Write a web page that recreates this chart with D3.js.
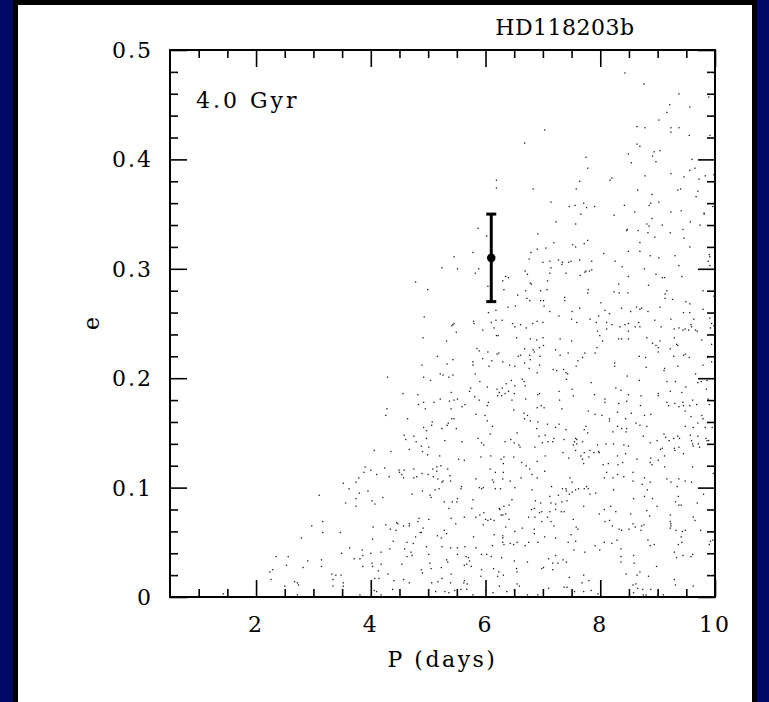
<!DOCTYPE html>
<html><head><meta charset="utf-8">
<script src="https://cdn.jsdelivr.net/npm/d3@7/dist/d3.min.js"></script>
<style>html,body{margin:0;padding:0;background:#fff;}svg{display:block;}</style>
</head><body>
<script>
// ---- data (P in days, e) ----
const title = "HD118203b";
const ageLabel = "4.0 Gyr";
const xLabel = "P (days)";
const yLabel = "e";
const xMajorTicks = [2, 4, 6, 8, 10];
const yMajorTicks = [0, 0.1, 0.2, 0.3, 0.4, 0.5];
const yTickLabels = ["0", "0.1", "0.2", "0.3", "0.4", "0.5"];
const observedP = [6.1];
const observedE = [0.31];
const observedErr = [[0.27, 0.35]];

const simLowLeft = [[4.58,0.148],[4.75,0.147],[4.61,0.144],[4.79,0.142],[4.06,0.134],[4.35,0.133],[4.67,0.135],[3.90,0.119],[4.24,0.118],[4.00,0.116],[4.49,0.116],[4.58,0.116],[4.75,0.117],[3.88,0.114],[4.10,0.112],[4.50,0.114],[4.54,0.112],[4.32,0.110],[4.57,0.109],[4.75,0.109],[4.80,0.110],[3.79,0.109],[3.74,0.105],[3.52,0.104],[3.62,0.099],[3.95,0.097],[3.80,0.095],[4.72,0.094],[3.10,0.093],[3.74,0.090],[4.21,0.091],[4.02,0.088],[3.56,0.086],[4.07,0.085],[3.74,0.083],[4.84,0.072],[4.82,0.069],[3.16,0.069],[4.45,0.068],[4.47,0.067],[4.67,0.067],[4.67,0.065],[4.57,0.065],[4.26,0.066],[4.04,0.064],[2.97,0.065],[4.34,0.062],[4.44,0.061],[3.16,0.059],[3.47,0.059],[4.86,0.059],[4.78,0.055],[2.79,0.054],[4.03,0.053],[4.39,0.051],[4.63,0.050],[4.74,0.049],[3.63,0.045],[3.85,0.043],[4.33,0.044],[4.59,0.044],[4.70,0.041],[4.18,0.041],[4.00,0.040],[3.49,0.040],[4.72,0.038],[3.86,0.038],[4.63,0.037],[2.35,0.037],[2.56,0.037],[3.71,0.035],[3.81,0.035],[3.14,0.034],[2.90,0.033],[4.02,0.031],[2.53,0.029],[3.14,0.028],[3.86,0.028],[4.03,0.028],[4.18,0.030],[4.54,0.030],[2.82,0.027],[2.29,0.025],[2.24,0.023],[4.13,0.024],[3.48,0.020],[3.32,0.021],[3.39,0.020],[4.30,0.021],[4.07,0.017],[4.14,0.017],[2.26,0.016],[2.67,0.014],[3.34,0.016],[4.40,0.015],[4.57,0.016],[2.72,0.013],[2.74,0.011],[3.52,0.013],[4.67,0.013],[2.50,0.010],[3.34,0.010],[3.52,0.010],[4.06,0.006],[4.10,0.005],[4.38,0.007],[1.43,0.003],[2.72,0.002],[3.81,0.002],[4.18,0.002]];

const simLowMid = [[5.07,0.160],[5.06,0.157],[5.35,0.159],[5.33,0.157],[6.03,0.161],[6.12,0.156],[6.78,0.161],[6.91,0.160],[7.08,0.158],[7.28,0.158],[7.22,0.155],[6.89,0.154],[7.40,0.153],[4.92,0.155],[4.97,0.152],[5.24,0.154],[5.49,0.154],[6.08,0.149],[5.87,0.145],[6.55,0.150],[6.93,0.147],[7.04,0.148],[7.19,0.145],[7.09,0.142],[7.17,0.142],[6.99,0.141],[7.57,0.145],[7.59,0.144],[7.55,0.142],[7.53,0.139],[7.59,0.140],[7.37,0.144],[4.97,0.145],[5.29,0.143],[5.59,0.142],[5.93,0.141],[5.97,0.139],[6.44,0.144],[6.34,0.142],[6.50,0.141],[6.58,0.139],[6.60,0.137],[6.86,0.137],[4.88,0.138],[5.01,0.137],[4.90,0.133],[4.99,0.130],[7.57,0.134],[7.35,0.132],[7.45,0.127],[5.20,0.129],[5.92,0.128],[6.09,0.129],[6.32,0.128],[6.49,0.128],[7.04,0.129],[5.53,0.126],[5.63,0.125],[6.27,0.126],[6.31,0.122],[6.63,0.123],[6.71,0.120],[6.77,0.117],[6.90,0.124],[5.22,0.120],[5.15,0.119],[5.08,0.117],[5.15,0.115],[5.34,0.117],[6.08,0.117],[6.31,0.114],[6.17,0.114],[7.03,0.115],[4.89,0.113],[5.00,0.112],[5.09,0.110],[5.17,0.108],[5.38,0.111],[5.26,0.106],[5.39,0.106],[5.24,0.105],[5.83,0.108],[6.12,0.107],[6.14,0.105],[6.30,0.108],[6.43,0.106],[6.62,0.109],[6.81,0.112],[6.90,0.109],[7.47,0.109],[7.51,0.105],[4.90,0.097],[5.12,0.098],[5.19,0.099],[5.58,0.101],[5.57,0.099],[5.89,0.100],[5.93,0.099],[5.96,0.100],[6.17,0.099],[6.26,0.099],[6.51,0.100],[6.81,0.098],[7.15,0.101],[7.34,0.099],[7.40,0.099],[7.41,0.097],[7.51,0.096],[7.57,0.098],[7.62,0.099],[5.03,0.093],[5.05,0.091],[7.27,0.093],[7.12,0.092],[7.46,0.094],[5.51,0.090],[5.78,0.089],[5.28,0.087],[5.42,0.087],[5.50,0.087],[6.46,0.089],[6.32,0.083],[6.24,0.081],[6.25,0.080],[6.41,0.084],[6.87,0.088],[6.96,0.086],[7.14,0.086],[7.22,0.085],[7.33,0.087],[7.42,0.088],[5.36,0.081],[5.76,0.081],[6.80,0.080],[6.85,0.081],[6.94,0.077],[6.98,0.078],[7.12,0.078],[7.22,0.080],[7.32,0.078],[7.37,0.078],[6.27,0.075],[6.30,0.075],[6.35,0.076],[5.97,0.077],[5.90,0.075],[5.83,0.073],[5.63,0.073],[5.40,0.072],[5.01,0.071],[6.00,0.071],[6.04,0.070],[6.09,0.071],[6.15,0.070],[6.41,0.071],[6.75,0.073],[6.86,0.073],[7.08,0.073],[6.98,0.069],[7.14,0.069],[7.53,0.071],[5.48,0.067],[5.96,0.066],[6.35,0.064],[6.51,0.060],[6.64,0.063],[6.85,0.062],[7.19,0.065],[7.58,0.064],[7.61,0.062],[4.91,0.063],[4.88,0.059],[5.28,0.061],[5.16,0.056],[5.23,0.054],[5.32,0.058],[5.79,0.055],[6.15,0.057],[6.30,0.056],[6.30,0.054],[6.85,0.058],[7.03,0.055],[7.22,0.054],[7.49,0.057],[6.30,0.050],[6.32,0.048],[6.43,0.049],[6.49,0.048],[6.55,0.050],[6.75,0.050],[6.69,0.047],[6.91,0.050],[7.44,0.050],[7.57,0.051],[4.97,0.046],[5.24,0.046],[5.39,0.045],[5.51,0.045],[5.64,0.046],[5.83,0.045],[6.12,0.047],[5.01,0.039],[5.51,0.039],[5.93,0.039],[6.02,0.039],[6.10,0.037],[6.28,0.036],[5.66,0.037],[5.70,0.036],[7.54,0.043],[7.22,0.038],[5.32,0.034],[5.34,0.032],[5.72,0.033],[5.67,0.030],[5.63,0.029],[5.75,0.028],[6.50,0.033],[6.73,0.032],[7.10,0.035],[7.17,0.031],[7.26,0.031],[7.35,0.034],[7.41,0.032],[7.01,0.027],[6.98,0.026],[5.03,0.031],[4.88,0.025],[5.05,0.026],[4.90,0.022],[5.23,0.027],[5.40,0.021],[5.93,0.025],[6.14,0.026],[6.23,0.023],[6.54,0.026],[6.55,0.023],[7.17,0.025],[5.92,0.019],[6.21,0.019],[6.31,0.020],[5.24,0.017],[5.06,0.013],[5.17,0.014],[5.39,0.013],[5.63,0.015],[5.62,0.013],[5.68,0.012],[6.55,0.012],[6.59,0.010],[6.24,0.010],[6.50,0.006],[7.10,0.008],[7.37,0.009],[7.42,0.009],[7.46,0.018],[7.55,0.005],[5.13,0.005],[5.29,0.005],[5.36,0.004],[5.46,0.006],[5.57,0.007],[5.67,0.007],[6.00,0.006],[6.13,0.004],[6.37,0.005],[6.73,0.002],[6.91,0.002],[5.78,0.002]];

const simLowRight = [[8.16,0.161],[7.75,0.156],[7.72,0.153],[7.78,0.150],[8.30,0.156],[8.37,0.154],[8.46,0.154],[8.45,0.151],[8.62,0.159],[8.69,0.157],[8.81,0.156],[8.22,0.151],[8.75,0.147],[9.48,0.156],[9.62,0.155],[9.70,0.159],[9.83,0.155],[9.95,0.155],[9.11,0.149],[9.14,0.146],[9.28,0.145],[9.35,0.147],[9.38,0.145],[9.57,0.148],[9.70,0.147],[9.84,0.145],[9.89,0.143],[9.86,0.143],[7.69,0.142],[7.95,0.139],[8.10,0.140],[8.23,0.140],[8.41,0.139],[8.49,0.138],[8.87,0.141],[8.99,0.143],[9.20,0.143],[9.08,0.136],[9.05,0.135],[9.29,0.136],[9.30,0.134],[9.37,0.137],[9.59,0.143],[9.61,0.140],[9.62,0.138],[9.73,0.137],[9.71,0.140],[7.82,0.134],[7.89,0.132],[7.97,0.133],[7.98,0.132],[7.72,0.132],[7.66,0.129],[7.80,0.128],[8.30,0.129],[8.44,0.131],[8.64,0.126],[8.88,0.127],[9.01,0.125],[9.12,0.129],[9.45,0.131],[7.69,0.126],[7.71,0.122],[8.05,0.121],[8.14,0.122],[8.31,0.121],[8.39,0.123],[8.87,0.123],[8.90,0.121],[9.12,0.119],[9.61,0.119],[9.97,0.113],[8.11,0.114],[8.30,0.112],[8.57,0.114],[8.07,0.109],[8.22,0.109],[8.41,0.110],[8.77,0.109],[8.87,0.105],[8.57,0.106],[8.73,0.103],[9.16,0.108],[9.23,0.105],[9.37,0.108],[9.48,0.106],[9.59,0.105],[9.34,0.101],[7.72,0.099],[7.76,0.101],[7.79,0.099],[7.82,0.094],[7.92,0.095],[8.23,0.098],[8.82,0.098],[9.80,0.094],[8.58,0.090],[8.77,0.092],[8.91,0.090],[9.36,0.092],[9.31,0.087],[9.37,0.084],[9.41,0.084],[9.69,0.086],[7.71,0.083],[8.07,0.080],[8.18,0.083],[8.27,0.078],[7.98,0.076],[8.53,0.076],[8.81,0.079],[8.86,0.074],[8.99,0.083],[9.22,0.075],[9.62,0.073],[9.65,0.070],[8.08,0.069],[8.16,0.070],[8.21,0.065],[8.57,0.067],[8.61,0.064],[8.72,0.065],[8.76,0.066],[8.33,0.062],[8.37,0.061],[8.50,0.062],[8.71,0.061],[9.22,0.069],[9.23,0.067],[9.23,0.065],[9.22,0.063],[9.32,0.061],[9.43,0.060],[9.48,0.061],[9.41,0.055],[9.75,0.061],[8.29,0.052],[7.91,0.047],[8.07,0.050],[8.20,0.049],[7.99,0.043],[8.83,0.052],[8.87,0.047],[8.94,0.048],[9.36,0.048],[9.42,0.050],[9.92,0.051],[9.96,0.052],[9.90,0.048],[7.73,0.041],[8.36,0.044],[8.36,0.037],[8.36,0.032],[8.58,0.038],[8.59,0.031],[9.29,0.041],[9.33,0.036],[9.44,0.038],[9.58,0.037],[9.61,0.039],[8.98,0.028],[8.45,0.021],[8.64,0.020],[8.69,0.023],[8.84,0.019],[7.71,0.020],[7.68,0.013],[7.80,0.015],[8.57,0.011],[8.62,0.012],[8.65,0.008],[8.74,0.007],[8.88,0.007],[9.29,0.016],[9.31,0.011],[9.62,0.010],[7.71,0.005],[7.84,0.006],[7.96,0.003],[8.58,0.004],[8.75,0.002],[8.80,0.002],[9.10,0.002]];

const simMidLeft = [[6.02,0.330],[6.91,0.332],[7.19,0.324],[7.05,0.319],[6.90,0.318],[6.79,0.315],[5.78,0.315],[5.45,0.311],[6.76,0.309],[7.00,0.306],[7.12,0.307],[7.27,0.308],[5.24,0.301],[5.51,0.300],[5.88,0.300],[5.82,0.296],[7.14,0.301],[6.69,0.298],[6.73,0.295],[7.12,0.296],[4.78,0.288],[6.35,0.293],[6.40,0.292],[6.30,0.289],[6.78,0.287],[6.80,0.286],[7.08,0.289],[4.99,0.281],[6.32,0.281],[6.04,0.284],[6.70,0.280],[6.96,0.280],[7.07,0.281],[6.56,0.276],[6.72,0.273],[6.77,0.271],[6.96,0.271],[7.01,0.271],[6.39,0.265],[6.52,0.266],[7.02,0.266],[7.12,0.261],[7.28,0.257],[6.05,0.260],[6.18,0.262],[4.93,0.256],[5.79,0.252],[5.80,0.250],[5.45,0.250],[5.43,0.249],[5.41,0.248],[5.49,0.242],[6.10,0.251],[6.18,0.253],[6.29,0.253],[5.95,0.244],[6.15,0.246],[6.47,0.250],[6.51,0.247],[6.61,0.249],[6.71,0.246],[6.82,0.250],[6.90,0.252],[7.00,0.251],[4.91,0.237],[5.32,0.234],[6.19,0.239],[6.22,0.239],[6.54,0.237],[6.78,0.236],[6.89,0.235],[7.00,0.237],[7.01,0.230],[6.94,0.228],[6.83,0.226],[6.68,0.227],[5.85,0.227],[5.89,0.225],[6.04,0.224],[6.20,0.222],[6.23,0.223],[7.22,0.226],[7.30,0.221],[5.16,0.220],[5.43,0.217],[5.33,0.213],[4.89,0.212],[5.78,0.215],[5.78,0.212],[5.95,0.218],[6.06,0.211],[6.11,0.216],[6.30,0.215],[6.42,0.212],[6.51,0.211],[6.57,0.220],[6.61,0.221],[6.68,0.214],[6.78,0.217],[6.77,0.221],[6.85,0.224],[6.95,0.220],[6.94,0.212],[6.76,0.209],[6.90,0.205],[7.18,0.208],[7.24,0.207],[4.29,0.201],[4.92,0.201],[5.04,0.198],[5.21,0.204],[5.26,0.203],[5.36,0.201],[5.43,0.203],[5.82,0.204],[5.90,0.197],[6.03,0.192],[6.20,0.190],[6.24,0.187],[6.29,0.191],[6.36,0.195],[6.40,0.188],[6.45,0.198],[6.51,0.193],[6.64,0.199],[6.67,0.197],[6.69,0.193],[6.50,0.186],[6.34,0.186],[6.21,0.184],[6.28,0.184],[5.74,0.191],[5.72,0.188],[5.81,0.183],[5.89,0.180],[6.05,0.178],[6.03,0.175],[4.56,0.186],[4.82,0.185],[5.40,0.187],[5.51,0.181],[5.37,0.179],[5.45,0.180],[5.21,0.181],[5.10,0.178],[4.92,0.178],[4.83,0.176],[5.64,0.176],[5.59,0.174],[4.95,0.172],[5.40,0.172],[6.70,0.181],[6.46,0.180],[6.91,0.185],[6.94,0.186],[7.28,0.188],[7.29,0.180],[7.02,0.173],[6.90,0.173],[6.97,0.175],[4.28,0.172],[4.26,0.166],[4.64,0.163],[5.41,0.163],[5.45,0.163],[5.83,0.167],[5.99,0.166],[6.49,0.171],[6.67,0.168],[6.73,0.166],[6.68,0.163]];

const simMidRight = [[8.46,0.335],[8.66,0.335],[8.83,0.333],[9.22,0.333],[8.95,0.329],[9.46,0.328],[7.52,0.322],[7.57,0.320],[7.72,0.323],[7.78,0.326],[8.69,0.324],[9.56,0.320],[8.49,0.316],[8.69,0.316],[8.06,0.314],[8.87,0.312],[9.02,0.310],[9.30,0.312],[9.90,0.313],[9.91,0.311],[9.88,0.307],[9.91,0.303],[7.34,0.306],[7.33,0.304],[7.45,0.306],[7.49,0.307],[7.64,0.308],[7.85,0.307],[8.26,0.307],[9.37,0.303],[8.38,0.302],[7.40,0.296],[7.73,0.297],[7.75,0.298],[7.81,0.298],[7.85,0.299],[7.65,0.294],[8.77,0.300],[8.49,0.293],[8.97,0.295],[9.08,0.292],[9.12,0.292],[9.42,0.293],[8.32,0.286],[8.84,0.285],[7.79,0.281],[7.78,0.278],[8.24,0.279],[8.33,0.278],[8.48,0.278],[9.16,0.280],[9.13,0.277],[9.13,0.273],[9.26,0.272],[9.79,0.280],[9.98,0.275],[7.38,0.274],[7.38,0.271],[8.01,0.269],[9.49,0.270],[9.56,0.268],[7.51,0.261],[7.64,0.264],[8.08,0.262],[8.16,0.259],[8.37,0.264],[8.53,0.261],[8.63,0.265],[8.69,0.263],[8.72,0.264],[8.83,0.261],[9.04,0.265],[9.45,0.260],[9.56,0.260],[9.79,0.263],[9.91,0.255],[7.50,0.254],[7.59,0.251],[7.82,0.254],[7.93,0.251],[7.97,0.257],[8.11,0.251],[8.20,0.249],[8.43,0.249],[8.49,0.250],[8.67,0.251],[8.61,0.247],[8.69,0.247],[8.95,0.253],[9.23,0.254],[9.06,0.247],[9.29,0.245],[9.37,0.246],[9.44,0.244],[9.48,0.245],[9.54,0.244],[9.63,0.254],[9.58,0.249],[9.59,0.247],[9.66,0.244],[9.69,0.243],[9.94,0.250],[9.98,0.248],[9.92,0.246],[7.95,0.243],[8.11,0.245],[8.34,0.247],[8.49,0.243],[7.99,0.239],[8.04,0.234],[8.32,0.236],[8.37,0.236],[8.49,0.236],[8.81,0.237],[8.91,0.232],[8.97,0.230],[9.01,0.228],[9.04,0.234],[9.29,0.237],[9.33,0.231],[9.35,0.230],[9.22,0.227],[9.77,0.235],[9.94,0.231],[7.30,0.236],[7.50,0.234],[7.94,0.228],[7.44,0.223],[7.73,0.223],[7.69,0.219],[7.61,0.216],[7.58,0.211],[7.91,0.223],[8.68,0.220],[8.79,0.219],[9.01,0.224],[9.28,0.220],[9.45,0.221],[9.48,0.222],[9.55,0.219],[9.87,0.219],[9.88,0.220],[9.94,0.215],[9.79,0.212],[9.66,0.204],[9.70,0.196],[9.76,0.197],[9.86,0.198],[7.36,0.208],[7.40,0.205],[7.43,0.204],[7.41,0.199],[8.25,0.214],[8.25,0.211],[8.47,0.202],[8.68,0.198],[8.80,0.210],[9.12,0.209],[9.11,0.207],[9.35,0.211],[9.16,0.197],[9.31,0.197],[9.49,0.192],[7.84,0.196],[7.51,0.190],[7.53,0.184],[7.90,0.185],[8.08,0.181],[8.08,0.178],[8.27,0.191],[8.36,0.189],[8.49,0.185],[8.71,0.184],[9.01,0.186],[9.01,0.184],[9.22,0.188],[9.42,0.187],[9.61,0.180],[9.68,0.176],[9.88,0.181],[9.90,0.176],[9.85,0.190],[7.33,0.172],[7.79,0.170],[7.91,0.167],[8.03,0.166],[8.16,0.163],[8.30,0.169],[8.32,0.177],[8.46,0.179],[8.44,0.163],[8.54,0.168],[8.70,0.175],[8.77,0.166],[8.88,0.167],[9.16,0.178],[9.19,0.175],[9.30,0.177],[9.37,0.174],[9.44,0.178],[9.45,0.175],[9.48,0.170],[9.56,0.175],[9.58,0.165],[9.77,0.166],[9.79,0.163]];

const simTop = [[8.43,0.479],[8.76,0.469],[9.37,0.460],[9.89,0.457],[9.21,0.450],[9.56,0.448],[9.16,0.443],[9.02,0.436],[7.03,0.427],[8.64,0.430],[8.78,0.429],[9.23,0.429],[9.37,0.429],[9.23,0.425],[9.55,0.422],[9.91,0.422],[6.68,0.415],[8.64,0.414],[8.69,0.412],[8.94,0.407],[9.04,0.408],[8.49,0.405],[8.91,0.403],[8.97,0.398],[8.54,0.397],[7.75,0.402],[7.78,0.392],[9.60,0.400],[9.56,0.390],[9.65,0.392],[9.23,0.387],[9.46,0.384],[9.72,0.382],[9.83,0.385],[9.98,0.386],[6.19,0.381],[6.19,0.374],[6.83,0.373],[7.58,0.373],[7.64,0.380],[8.17,0.381],[8.20,0.383],[8.78,0.385],[8.65,0.372],[8.90,0.368],[9.35,0.372],[9.40,0.373],[9.70,0.371],[9.67,0.366],[7.14,0.361],[7.46,0.357],[7.56,0.358],[7.76,0.356],[7.90,0.357],[7.71,0.360],[8.42,0.358],[8.60,0.352],[8.85,0.358],[9.02,0.361],[8.88,0.360],[9.23,0.352],[9.41,0.353],[9.81,0.351],[9.81,0.350],[9.99,0.361],[9.96,0.357],[8.24,0.349],[7.66,0.350],[7.23,0.343],[7.57,0.341],[8.90,0.346],[8.81,0.341],[8.85,0.339],[9.08,0.340],[9.57,0.343],[9.74,0.340],[5.87,0.337],[8.47,0.336],[9.44,0.336]];

const simPoints = [].concat(simLowLeft, simLowMid, simLowRight, simMidLeft, simMidRight, simTop);

// ---- layout ----
const W = 769, H = 702;
const plot = {left: 170, right: 715, top: 50, bottom: 597};
const FONT = "'DejaVu Serif', serif";

const svg = d3.select("body").append("svg").attr("width", W).attr("height", H);

// frame
svg.append("rect").attr("x", 0).attr("y", 0).attr("width", W).attr("height", H).attr("fill", "#ffffff");
svg.append("rect").attr("x", 0).attr("y", 0).attr("width", 13).attr("height", H).attr("fill", "#000a66");
svg.append("rect").attr("x", 13).attr("y", 0).attr("width", 5).attr("height", H).attr("fill", "#000000");
svg.append("rect").attr("x", 13).attr("y", 0).attr("width", W - 13).attr("height", 5).attr("fill", "#000000");
svg.append("rect").attr("x", 752).attr("y", 0).attr("width", 5).attr("height", H).attr("fill", "#000000");
svg.append("rect").attr("x", 757).attr("y", 0).attr("width", 12).attr("height", H).attr("fill", "#000a66");

const x = d3.scaleLinear().domain([0.5, 10]).range([plot.left, plot.right]);
const y = d3.scaleLinear().domain([0, 0.5]).range([plot.bottom, plot.top]);

// simulated points
svg.append("g").selectAll("rect").data(simPoints).join("rect")
  .attr("x", d => x(d[0]) - 0.6).attr("y", d => y(d[1]) - 0.6)
  .attr("width", 1.3).attr("height", 1.3).attr("fill", "#1a1a1a");

// axes (ticks inward on all four sides)
const xMinor = d3.range(1, 10.01, 0.5).filter(v => !xMajorTicks.includes(v));
const yMinor = d3.range(0.02, 0.5, 0.02).map(v => +v.toFixed(2)).filter(v => !yMajorTicks.includes(+v.toFixed(1)) || Math.abs(v*10 - Math.round(v*10)) > 1e-6);

function styleAxis(g) {
  g.select(".domain").remove();
  g.selectAll("line").attr("stroke", "#000").attr("stroke-width", 1.6);
  g.selectAll("text").remove();
}
const MAJ = 17, MIN = 8;
svg.append("g").attr("transform", `translate(0,${plot.bottom})`).call(d3.axisBottom(x).tickValues(xMajorTicks).tickSize(-MAJ)).call(styleAxis);
svg.append("g").attr("transform", `translate(0,${plot.bottom})`).call(d3.axisBottom(x).tickValues(xMinor).tickSize(-MIN)).call(styleAxis);
svg.append("g").attr("transform", `translate(0,${plot.top})`).call(d3.axisTop(x).tickValues(xMajorTicks).tickSize(-MAJ)).call(styleAxis);
svg.append("g").attr("transform", `translate(0,${plot.top})`).call(d3.axisTop(x).tickValues(xMinor).tickSize(-MIN)).call(styleAxis);
svg.append("g").attr("transform", `translate(${plot.left},0)`).call(d3.axisLeft(y).tickValues(yMajorTicks).tickSize(-MAJ)).call(styleAxis);
svg.append("g").attr("transform", `translate(${plot.left},0)`).call(d3.axisLeft(y).tickValues(yMinor).tickSize(-MIN)).call(styleAxis);
svg.append("g").attr("transform", `translate(${plot.right},0)`).call(d3.axisRight(y).tickValues(yMajorTicks).tickSize(-MAJ)).call(styleAxis);
svg.append("g").attr("transform", `translate(${plot.right},0)`).call(d3.axisRight(y).tickValues(yMinor).tickSize(-MIN)).call(styleAxis);

svg.append("rect").attr("x", plot.left).attr("y", plot.top)
  .attr("width", plot.right - plot.left).attr("height", plot.bottom - plot.top)
  .attr("fill", "none").attr("stroke", "#000").attr("stroke-width", 2);

// tick labels
svg.append("g").selectAll("text").data(xMajorTicks).join("text")
  .attr("x", d => x(d)).attr("y", 632).attr("text-anchor", "middle")
  .attr("font-family", FONT).attr("font-size", 22).attr("letter-spacing", 2).attr("fill", "#000")
  .text(d => d);
svg.append("g").selectAll("text").data(yMajorTicks).join("text")
  .attr("x", 153).attr("y", d => y(d) + 8).attr("text-anchor", "end")
  .attr("font-family", FONT).attr("font-size", 22).attr("letter-spacing", 2).attr("fill", "#000")
  .text((d, i) => yTickLabels[i]);

// axis titles
svg.append("text").attr("x", (plot.left + plot.right) / 2).attr("y", 667).attr("text-anchor", "middle")
  .attr("font-family", FONT).attr("font-size", 22).attr("letter-spacing", 2.5).attr("fill", "#000").text(xLabel);
svg.append("text").attr("transform", `translate(99,${(plot.top + plot.bottom) / 2}) rotate(-90)`)
  .attr("text-anchor", "middle").attr("font-family", FONT).attr("font-size", 22).attr("fill", "#000").text(yLabel);

// title & age
svg.append("text").attr("x", 565).attr("y", 35).attr("text-anchor", "middle")
  .attr("font-family", FONT).attr("font-size", 22).attr("letter-spacing", 0.5).attr("fill", "#000").text(title);
svg.append("text").attr("x", 196).attr("y", 108)
  .attr("font-family", FONT).attr("font-size", 22).attr("letter-spacing", 3).attr("fill", "#000").text(ageLabel);

// observed planet with error bar
const obs = observedP.map((p, i) => ({P: p, e: observedE[i], lo: observedErr[i][0], hi: observedErr[i][1]}));
const og = svg.append("g");
obs.forEach(o => {
  og.append("line").attr("x1", x(o.P)).attr("x2", x(o.P)).attr("y1", y(o.lo)).attr("y2", y(o.hi))
    .attr("stroke", "#000").attr("stroke-width", 3);
  [o.lo, o.hi].forEach(v => og.append("line").attr("x1", x(o.P) - 5).attr("x2", x(o.P) + 5)
    .attr("y1", y(v)).attr("y2", y(v)).attr("stroke", "#000").attr("stroke-width", 3));
  og.append("circle").attr("cx", x(o.P)).attr("cy", y(o.e)).attr("r", 4.3).attr("fill", "#000");
});
</script>
</body></html>
